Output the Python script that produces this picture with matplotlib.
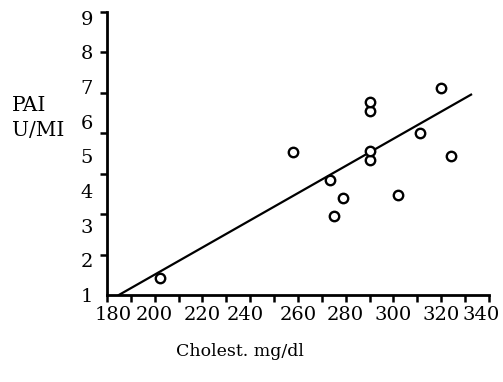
import numpy as np
import matplotlib
matplotlib.use("Agg")
import matplotlib.pyplot as plt
from matplotlib.transforms import ScaledTranslation

# cholesterol (mg/dl) vs PAI (U/ml)
chol = [202, 258, 273.5, 275, 279, 290, 290, 290, 290, 302, 311, 320, 324]
pai = [1.50, 5.14, 4.32, 3.28, 3.79, 4.90, 5.17, 6.30, 6.56, 3.89, 5.67, 6.97, 5.00]

# regression line as drawn
fit_slope = 0.0392
fit_icpt = -6.25
fit_x = [185, 332.5]

xticks = list(range(180, 341, 20))
yticks = list(range(1, 10))

plt.rcParams['font.family'] = ['DejaVu Serif']

fig = plt.figure(figsize=(5.03, 3.82), dpi=100)
ax = fig.add_axes([0.2127, 0.2277, 0.7594, 0.741])

fx = np.array(fit_x)
ax.plot(fx, fit_slope * fx + fit_icpt, color='black', lw=1.6, zorder=2)
ax.plot(chol, pai, 'o', ms=6.8, mfc='white', mec='black', mew=1.7, zorder=3)

ytop = 9.17
ax.set_xlim(180, 340)
ax.set_ylim(1, ytop)

for s in ['top', 'right']:
    ax.spines[s].set_visible(False)
for s in ['left', 'bottom']:
    ax.spines[s].set_linewidth(2)

ax.set_xticks(np.arange(180, 341, 10), minor=True)
ax.set_xticks(xticks)
ax.set_xticklabels([str(t) for t in xticks], fontsize=14)
ax.tick_params(axis='x', which='both', direction='out', length=5, width=1.8, pad=3)

# the printed labels sit a little off their ticks at the ends
shifts = {180: 6, 240: -5, 340: -8}
for t, lab in zip(xticks, ax.get_xticklabels()):
    if t in shifts:
        lab.set_transform(lab.get_transform() +
                          ScaledTranslation(shifts[t] / 100, 0, fig.dpi_scale_trans))

# y tick marks are not aligned with labels in the original
ax.set_yticks(yticks)
ax.set_yticklabels([str(t) for t in yticks], fontsize=14)
ax.set_yticks(np.linspace(1, ytop, 8), minor=True)
ax.tick_params(axis='y', which='major', length=0, pad=10)
ax.tick_params(axis='y', which='minor', direction='out', length=5, width=1.8)

fig.text(0.024, 0.691, 'PAI\nU/MI', fontsize=14.5, ha='left', va='center', linespacing=1.35)
fig.text(0.477, 0.079, 'Cholest. mg/dl', fontsize=12.5, ha='center', va='center')

fig.savefig('out.png', dpi=100, facecolor='white')
